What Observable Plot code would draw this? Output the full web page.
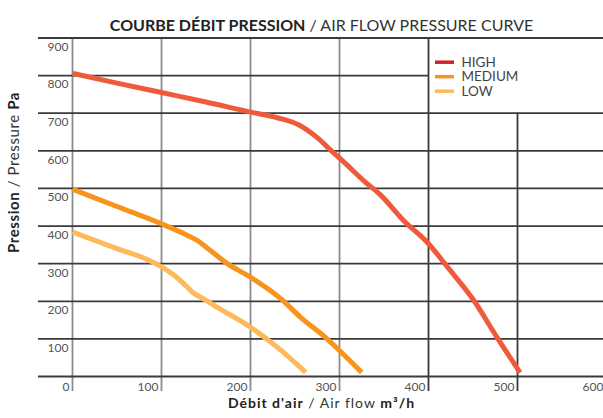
<!DOCTYPE html>
<html><head><meta charset="utf-8">
<script src="https://cdn.jsdelivr.net/npm/d3@7"></script>
<script src="https://cdn.jsdelivr.net/npm/@observablehq/plot@0.6"></script>
<style>body{margin:0;background:#fff;} #chart{width:603px;height:418px;}</style>
</head><body><div id="chart"></div>
<script>
// ---- data ----
const series = ["HIGH", "MEDIUM", "LOW"];
const lineColors = ["#F05A3C", "#F7941D", "#FDB95B"];
const legendColors = ["#D0222B", "#F7941D", "#FDB95B"];

const flowHigh = [0, 50, 100, 150, 200, 230, 255, 275, 290, 305, 327, 346, 372, 400, 421, 451, 477, 503];
const pressureHigh = [806, 780, 755, 730, 703, 688, 668, 635, 602, 570, 521, 483, 415, 353, 292, 202, 104, 10];

const flowMedium = [0, 50, 100, 125, 140, 155, 174, 200, 234, 256, 286, 299, 325];
const pressureMedium = [498, 452, 406, 380, 362, 335, 300, 264, 207, 158, 100, 71, 11];

const flowLow = [0, 50, 87, 102, 117, 128, 136, 147, 159, 200, 230, 262];
const pressureLow = [384, 340, 308, 289, 264, 240, 222, 207, 189, 131, 78, 11];

const xTicks = [0, 100, 200, 300, 400, 500, 600];
const yTicks = [0, 100, 200, 300, 400, 500, 600, 700, 800, 900];

const titleText = "COURBE DÉBIT PRESSION / AIR FLOW PRESSURE CURVE";
const xTitle = "Débit d'air / Air flow m³/h";
const yTitle = "Pression / Pressure Pa";

// ---- build tables ----
const flows = [flowHigh, flowMedium, flowLow];
const pressures = [pressureHigh, pressureMedium, pressureLow];
const curves = series.flatMap((s, i) => flows[i].map((f, j) => ({series: s, flow: f, pressure: pressures[i][j]})));

// pixel helpers for layout (scale: x 0..600 -> 72..606, y 0..900 -> 376..37.5)
const X0 = 72, X1 = 606, Y0 = 376, Y1 = 37.5;
const px2x = px => (px - X0) / (X1 - X0) * 600;
const py2y = py => (Y0 - py) / (Y0 - Y1) * 900;

const hRules = yTicks.map(v => ({v, x1: px2x(38), x2: v === 800 ? 400 : 600}));
const vRules = xTicks.filter(v => v <= 500).map(v => ({v, y1: py2y(391), y2: v === 500 ? 700 : 900, dark: v >= 400}));

const legend = series.map((s, i) => ({s, color: legendColors[i], y: py2y(61.7 + i * 14.5)}));

const chart = Plot.plot({
  width: 603, height: 418,
  marginTop: 37.5, marginBottom: 42, marginLeft: 72, marginRight: 0,
  style: {fontFamily: "Lato, 'Open Sans', sans-serif", background: "#fff"},
  x: {domain: [0, 600], range: [X0, X1], axis: null},
  y: {domain: [0, 900], range: [Y0, Y1], axis: null},
  color: {domain: series, range: lineColors},
  marks: [
    Plot.ruleX(vRules, {x: "v", y1: "y1", y2: "y2", stroke: d => d.dark ? "#3a3a3a" : "#8c8c8c", strokeWidth: 1.8}),
    Plot.ruleY(hRules, {y: "v", x1: "x1", x2: "x2", stroke: "#3a3a3a", strokeWidth: 1.8}),
    Plot.line(curves, {x: "flow", y: "pressure", z: "series", stroke: "series", strokeWidth: 5, curve: "monotone-x", strokeLinecap: "butt"}),
    Plot.text(yTicks.filter(v => v > 0), {x: 0, y: d => d, text: d => String(d), textAnchor: "end", dx: -4, dy: 9, fill: "#555", fontSize: 12}),
    Plot.text(xTicks, {x: d => d, y: 0, text: d => String(d), textAnchor: "end", dx: -3, dy: 11, fill: "#555", fontSize: 12}),
    Plot.ruleY(legend, {y: "y", x1: px2x(435), x2: px2x(454), stroke: "color", strokeWidth: 3.5}),
    Plot.text(legend, {x: px2x(461), y: "y", text: "s", textAnchor: "start", fill: "#444", fontSize: 13.5}),
    Plot.text([titleText], {frameAnchor: "top-left", textAnchor: "middle", dx: 321 - 72, dy: 19 - 37.5, fill: "#333", fontSize: 16}),
    Plot.text([xTitle], {frameAnchor: "bottom-left", textAnchor: "middle", dx: 321 - 72, dy: 407 - 376, fill: "#333", fontSize: 14}),
    Plot.text([yTitle], {frameAnchor: "left", textAnchor: "middle", rotate: -90, dx: 14 - 72, dy: 172 - 206.75, fill: "#333", fontSize: 15})
  ]
});
document.getElementById("chart").appendChild(chart);

// rich text (bold/regular parts)
const rich = {
  [titleText]: [["COURBE DÉBIT PRESSION", 700], [" / AIR FLOW PRESSURE CURVE", 400]],
  [xTitle]: [["Débit d'air", 700], [" / Air flow ", 400], ["m³/h", 700]],
  [yTitle]: [["Pression", 700], [" / Pressure ", 400], ["Pa", 700]]
};
d3.select(chart).selectAll("text").each(function() {
  const key = this.textContent;
  const parts = rich[key];
  if (!parts) return;
  const el = d3.select(this);
  el.text(null);
  if (key === xTitle) el.attr("letter-spacing", "1px");
  if (key === yTitle) el.attr("letter-spacing", "0.6px");
  parts.forEach(([t, w]) => el.append("tspan").attr("font-weight", w).attr("fill", w === 700 ? "#222" : "#333").text(t));
});
</script>
</body></html>
